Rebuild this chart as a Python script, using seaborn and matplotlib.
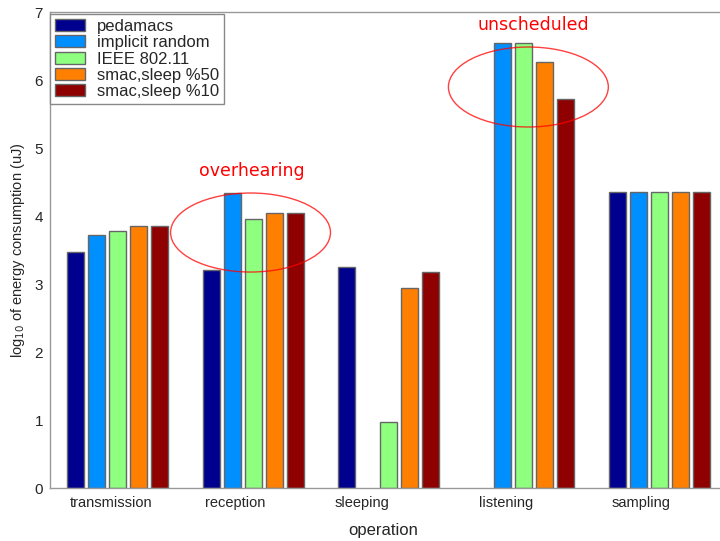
import numpy as np
import pandas as pd
import matplotlib
matplotlib.use("Agg")
import matplotlib.pyplot as plt
from matplotlib.patches import Ellipse
import seaborn as sns

# Operations and MAC protocols
operations = ["transmission", "reception", "sleeping", "listening", "sampling"]
protocols = ["pedamacs", "implicit random", "IEEE 802.11", "smac,sleep %50", "smac,sleep %10"]

# log10 of energy consumption (uJ) per protocol, one value per operation
pedamacs = [3.47, 3.21, 3.25, np.nan, 4.36]
implicit_random = [3.72, 4.34, np.nan, 6.54, 4.36]
ieee_80211 = [3.78, 3.96, 0.97, 6.55, 4.36]
smac_sleep50 = [3.86, 4.04, 2.94, 6.27, 4.36]
smac_sleep10 = [3.86, 4.04, 3.18, 5.72, 4.36]

colors = ["#00008F", "#008FFF", "#8FFF7F", "#FF8000", "#8F0000"]

series = [pedamacs, implicit_random, ieee_80211, smac_sleep50, smac_sleep10]
rows = []
for name, vals in zip(protocols, series):
    for op, v in zip(operations, vals):
        rows.append({"operation": op, "protocol": name, "energy": v})
df = pd.DataFrame(rows).dropna()

sns.set_style("white")
plt.rcParams["font.family"] = ["Liberation Sans", "DejaVu Sans"]

fig = plt.figure(figsize=(7.2, 5.41), dpi=100)
ax = fig.add_axes([50 / 720, 53 / 541, 677 / 720, 476 / 541])

sns.barplot(data=df, x="operation", y="energy", hue="protocol",
            order=operations, hue_order=protocols, palette=colors,
            saturation=1, width=0.775, gap=0.19, edgecolor="#666666",
            linewidth=1.0, errorbar=None, ax=ax)

ax.set_xlim(-0.5, 4.5)
ax.set_ylim(0, 7)
ax.set_yticks(range(0, 8))

# category labels sit slightly left of the bar groups
label_pos = [-0.052, 0.870, 1.807, 2.870, 3.866]
ax.set_xticks(label_pos)
ax.set_xticklabels(operations, fontsize=10.5)
ax.tick_params(axis="x", length=0, pad=6)
ax.tick_params(axis="y", direction="in", length=4.5, width=0.8, color="#888888",
               labelsize=11, pad=5, right=True)

for s in ax.spines.values():
    s.set_visible(True)
    s.set_color("#999999")
    s.set_linewidth(1.0)

ax.set_ylabel("log$_{10}$ of energy consumption (uJ)", fontsize=10.5)
ax.set_xlabel("operation", fontsize=12)
ax.xaxis.set_label_coords((383 - 50) / 677, -(530 - 488) / 476)
ax.yaxis.set_label_coords(-(50 - 18) / 677, 0.5)
ax.xaxis.label.set_va("center")
ax.yaxis.label.set_va("center")

handles, labels = ax.get_legend_handles_labels()
leg = ax.legend(handles, labels, loc="upper left", bbox_to_anchor=(0, 0.996),
                borderaxespad=0, fontsize=12, frameon=True, fancybox=False,
                framealpha=1, edgecolor="#888888", handlelength=1.8,
                handleheight=0.72, handletextpad=0.7, labelspacing=0.08,
                borderpad=0.3)
leg.get_frame().set_linewidth(1.0)

# highlighted regions
ax.add_patch(Ellipse((0.981, 3.757), 1.181, 1.162, fill=False,
                     edgecolor="red", alpha=0.75, linewidth=1.0))
ax.add_patch(Ellipse((3.033, 5.897), 1.181, 1.176, fill=False,
                     edgecolor="red", alpha=0.75, linewidth=1.0))
ax.text(0.989, 4.66, "overhearing", color="red", fontsize=12.5,
        ha="center", va="center", family=["DejaVu Sans"])
ax.text(3.070, 6.81, "unscheduled", color="red", fontsize=12.5,
        ha="center", va="center", family=["DejaVu Sans"])

fig.savefig("out.png", dpi=100)
